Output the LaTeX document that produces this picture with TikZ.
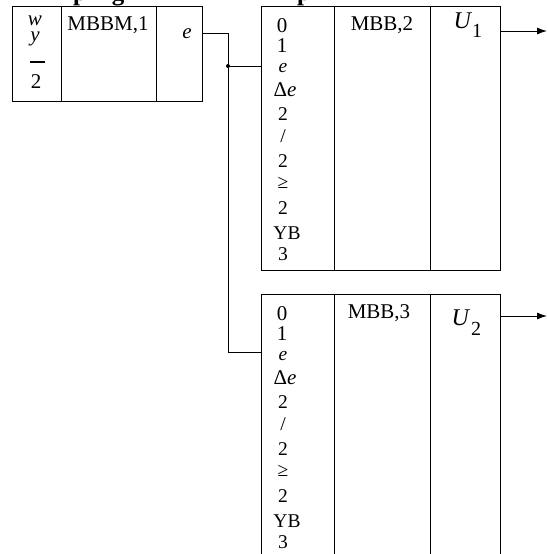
\documentclass[tikz,border=0pt]{standalone}
\usepackage{fontspec}
\setmainfont{Liberation Serif}
\usetikzlibrary{arrows.meta,calc}
\begin{document}
\begin{tikzpicture}[x=1pt,y=-1pt,line width=1pt,
  cell/.style={draw,line width=1.1pt,anchor=north west,inner sep=0pt},
  txt/.style={anchor=base,inner sep=0pt,font=\fontsize{21}{21}\selectfont},
  sml/.style={anchor=base,inner sep=0pt,font=\fontsize{19.5}{20}\selectfont},
  ttl/.style={anchor=base,inner sep=0pt,font=\fontsize{25}{25}\selectfont\bfseries},
  conn/.style={line width=0.9pt},
  arr/.style={line width=0.9pt,-{Latex[length=10pt,width=7pt]}}]
\useasboundingbox (0,0) rectangle (547,554);
% clipped title fragments
\node[ttl] (t1) at (80,0.5) {p};
\node[ttl] (t2) at (118,0.5) {g};
\node[ttl] (t3) at (304,0.5) {p};
% box 1
\node[cell,minimum width=49pt,minimum height=95pt] (b1a) at (12,6) {};
\node[cell,minimum width=95pt,minimum height=95pt] (b1b) at (61,6) {};
\node[cell,minimum width=46pt,minimum height=95pt] (b1c) at (156,6) {};
\node[txt] (w) at (35,25) {\textit{w}};
\node[txt] (yy) at (35,41) {\textit{y}};
\draw[line width=1.5pt] (30,62) -- (45,62);
\node[txt] (two) at (36,88) {2};
\node[txt] (m1) at (108,30) {MBBM,1};
\node[txt] (e1) at (187,38) {\textit{e}};
% box 2
\node[cell,minimum width=73pt,minimum height=264pt] (b2a) at (261,6) {};
\node[cell,minimum width=96pt,minimum height=264pt] (b2b) at (334,6) {};
\node[cell,minimum width=70pt,minimum height=264pt] (b2c) at (430,6) {};
\node[txt] (m2) at (382,30) {MBB,2};
\node[anchor=base west,inner sep=0pt,font=\fontsize{24}{24}\selectfont] (u1) at (453,28) {\textit{U}\raisebox{-9pt}{\fontsize{20}{20}\selectfont 1}};
% box 3
\node[cell,minimum width=73pt,minimum height=270pt] (b3a) at (261,294) {};
\node[cell,minimum width=96pt,minimum height=270pt] (b3b) at (334,294) {};
\node[cell,minimum width=70pt,minimum height=270pt] (b3c) at (430,294) {};
\node[txt] (m3) at (379,318) {MBB,3};
\node[anchor=base west,inner sep=0pt,font=\fontsize{24}{24}\selectfont] (u2) at (451,325) {\textit{U}\raisebox{-10pt}{\fontsize{20}{20}\selectfont\hspace{1pt}2}};
% column items
\foreach \top/\p in {0/a,288/b}{
  \node[txt] (\p c1) at (282,32+\top) {0};
  \node[txt] (\p c2) at (282,52+\top) {1};
  \node[sml] (\p c3) at (283,72+\top) {\textit{e}};
  \node[txt] (\p c4) at (285,96+\top) {Δ\textit{e}};
  \node[sml] (\p c5) at (283,120+\top) {2};
  \node[sml] (\p c6) at (283,142+\top) {/};
  \node[sml] (\p c7) at (283,167+\top) {2};
  \node[sml] (\p c8) at (283,188+\top) {≥};
  \node[sml] (\p c9) at (283,214+\top) {2};
  \node[sml] (\p c10) at (287,239+\top) {YB};
  \node[sml] (\p c11) at (283,260+\top) {3};
}
% connectors
\coordinate (o1) at ($(b1c.north east)+(0,27)$);
\coordinate (j) at (228,66);
\coordinate (k) at (228,352);
\draw[conn] (o1) -| (j);
\draw[conn] (j) -- (j -| b2a.west);
\draw[conn] (j) -- (k) -- (k -| b3a.west);
\fill (j) circle (2pt);
\coordinate (r1) at ($(b2c.north east)+(0,25)$);
\coordinate (r2) at ($(b3c.north east)+(0,22)$);
\coordinate (q1) at (547,0 |- r1);
\coordinate (q2) at (547,0 |- r2);
\draw[arr] (r1) -- (r1 -| q1);
\draw[arr] (r2) -- (r2 -| q2);
\end{tikzpicture}
\end{document}
